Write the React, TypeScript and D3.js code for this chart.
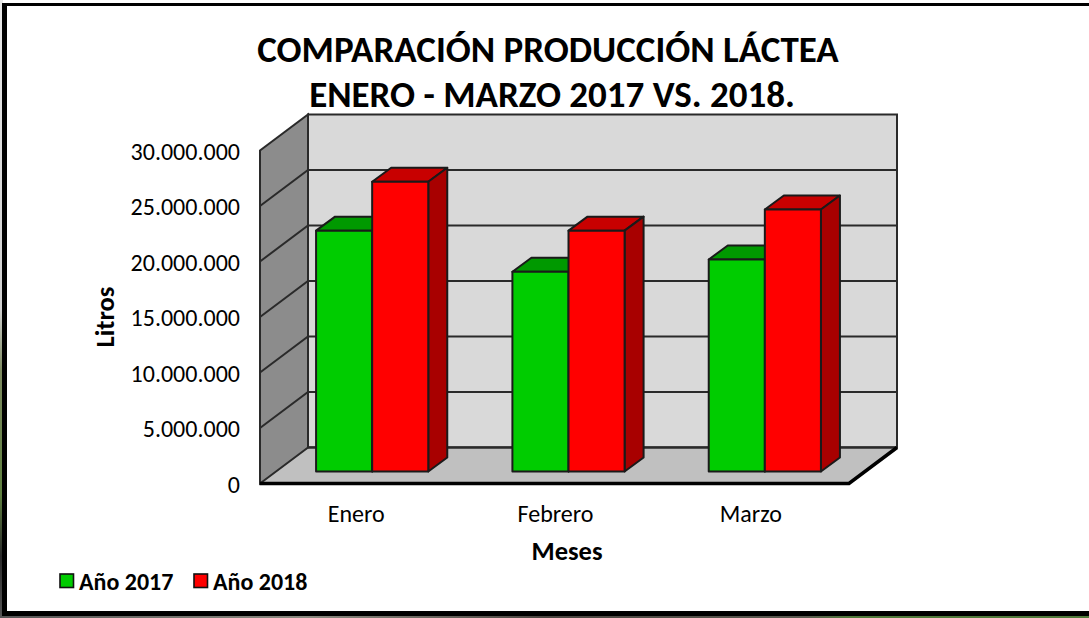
import * as d3 from 'd3'

const categories = ['Enero', 'Febrero', 'Marzo']
const series2017 = [21700000, 18000000, 19100000]
const series2018 = [26100000, 21700000, 23600000]
const yTicks = [0, 5000000, 10000000, 15000000, 20000000, 25000000, 30000000]
const titleLines = ['COMPARACIÓN PRODUCCIÓN LÁCTEA', 'ENERO - MARZO 2017 VS. 2018.']
const legendItems = ['Año 2017', 'Año 2018']
const labelShift = [-2, 1, 0]

const W = 1089
const H = 618
const FONT = "Carlito, Calibri, Lato, sans-serif"

// front plane of the 3D box, back wall is shifted by (dx, -dy)
const left = 260
const right = 849
const floor = 483.5
const top = 150.5
const dx = 48
const dy = 36
// bars stand a bit inside the box and have their own depth
const barOffX = 14
const barOffY = 12
const barDx = 19
const barDy = 14

const GREEN = ['#00cc00', '#009900', '#008800']
const RED = ['#ff0000', '#c80000', '#a80000']
const LINE = '#2a2a2a'

function Bar({ x, w, yTop, yBase, colors }: { x: number; w: number; yTop: number; yBase: number; colors: string[] }) {
  const line = d3.line()
  const frontTop: [number, number][] = [[x, yTop], [x + barDx, yTop - barDy], [x + w + barDx, yTop - barDy], [x + w, yTop]]
  const side: [number, number][] = [[x + w, yTop], [x + w + barDx, yTop - barDy], [x + w + barDx, yBase - barDy], [x + w, yBase]]
  return (
    <g stroke="#1a1a1a" strokeWidth={2} strokeLinejoin="round">
      <path d={line(frontTop) + 'Z'} fill={colors[1]} />
      <path d={line(side) + 'Z'} fill={colors[2]} />
      <rect x={x} y={yTop} width={w} height={yBase - yTop} fill={colors[0]} />
    </g>
  )
}

export default function App() {
  const x = d3.scaleBand<string>().domain(categories).range([left, right]).paddingInner(0).paddingOuter(0)
  const y = d3.scaleLinear().domain([0, 30000000]).range([floor, top])
  const fmt = (v: number) => d3.format(',')(v).replace(/,/g, '.')
  const barW = x.bandwidth() * 0.2857
  const line = d3.line()

  return (
    <svg width={W} height={H} style={{ position: 'absolute', left: 0, top: 0, display: 'block' }}>
      {/* photo behind the slide, only thin strips of it show */}
      <defs>
        <linearGradient id="edge" x1="0" y1="0" x2="0" y2="1">
          <stop offset="0" stopColor="#e8e8e8" />
          <stop offset="0.5" stopColor="#cfcfcf" />
          <stop offset="0.6" stopColor="#7d8a60" />
          <stop offset="0.8" stopColor="#5f8040" />
          <stop offset="0.9" stopColor="#2a2a2a" />
          <stop offset="1" stopColor="#555" />
        </linearGradient>
        <linearGradient id="strip" x1="0" y1="0" x2="1" y2="0">
          <stop offset="0" stopColor="#555" />
          <stop offset="0.28" stopColor="#8a8a80" />
          <stop offset="0.5" stopColor="#4a4540" />
          <stop offset="0.74" stopColor="#5a5a50" />
          <stop offset="0.78" stopColor="#4f7a3a" />
          <stop offset="1" stopColor="#4f7a3a" />
        </linearGradient>
      </defs>
      <rect width={W} height={H} fill="#fff" />
      <rect x={0} y={0} width={3} height={H} fill="url(#edge)" />
      <rect x={0} y={615} width={W} height={3} fill="url(#strip)" />
      <rect x={2} y={3} width={W} height={613} fill="#000" />
      <rect x={7} y={6} width={W} height={605} fill="#fff" />

      <g fontFamily={FONT} fontWeight="bold" fontSize={37} textAnchor="middle" fill="#000">
        {titleLines.map((t, i) => (
          <text key={t} x={i === 0 ? 548 : 552} y={62 + i * 45}>{t}</text>
        ))}
      </g>

      {/* walls and floor */}
      <rect x={left + dx} y={top - dy} width={right - left} height={floor - top} fill="#d9d9d9" stroke={LINE} strokeWidth={2} />
      <path d={line([[left, floor], [left + dx, floor - dy], [right + dx, floor - dy], [right, floor]]) + 'Z'} fill="#c0c0c0" />
      <path d={line([[left + dx, floor - dy], [right + dx, floor - dy]]) as string} stroke={LINE} strokeWidth={2.5} />
      <path d={line([[left, floor], [left + dx, floor - dy], [left + dx, top - dy], [left, top]]) + 'Z'} fill="#8c8c8c" stroke={LINE} strokeWidth={2} />

      {yTicks.slice(1, -1).map((t) => (
        <path key={t} d={line([[left, y(t)], [left + dx, y(t) - dy], [right + dx, y(t) - dy]]) as string} fill="none" stroke={LINE} strokeWidth={2} />
      ))}
      <path d={line([[left, floor], [right, floor], [right + dx, floor - dy]]) as string} fill="none" stroke="#000" strokeWidth={3.5} />

      {categories.map((c, i) => {
        const x0 = (x(c) as number) + barOffX + x.bandwidth() / 2 - barW
        const base = floor - barOffY
        const h = (v: number) => base - (floor - y(v))
        return (
          <g key={c}>
            <Bar x={x0} w={barW} yTop={h(series2017[i])} yBase={base} colors={GREEN} />
            <Bar x={x0 + barW} w={barW} yTop={h(series2018[i])} yBase={base} colors={RED} />
          </g>
        )
      })}

      <g fontFamily={FONT} fontSize={24} fill="#000" textAnchor="end">
        {yTicks.map((t) => (
          <text key={t} x={240} y={y(t) + 9}>{fmt(t)}</text>
        ))}
      </g>
      <g fontFamily={FONT} fontSize={24} fill="#000" textAnchor="middle">
        {categories.map((c, i) => (
          <text key={c} x={(x(c) as number) + x.bandwidth() / 2 + labelShift[i]} y={522}>{c}</text>
        ))}
      </g>
      <text transform="translate(114,317) rotate(-90)" fontFamily={FONT} fontWeight="bold" fontSize={26.5} textAnchor="middle">Litros</text>
      <text x={567} y={560} fontFamily={FONT} fontWeight="bold" fontSize={26.5} textAnchor="middle">Meses</text>

      <g fontFamily={FONT} fontWeight="bold" fontSize={24}>
        {legendItems.map((t, i) => (
          <g key={t} transform={`translate(${60 + i * 134},574)`}>
            <rect width={13.5} height={13.5} fill={i === 0 ? GREEN[0] : RED[0]} stroke="#111" strokeWidth={1.6} />
            <text x={19} y={15.5}>{t}</text>
          </g>
        ))}
      </g>
    </svg>
  )
}
